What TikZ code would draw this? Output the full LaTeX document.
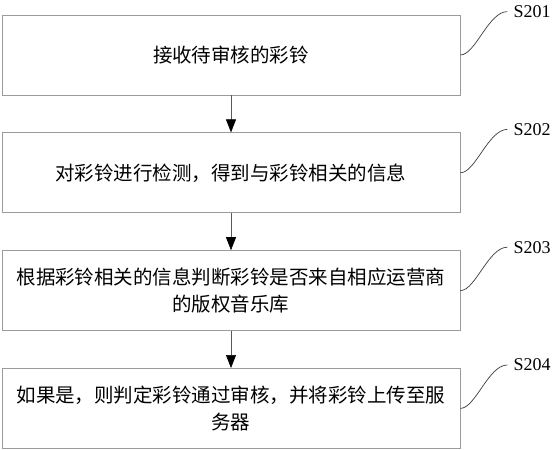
\documentclass[tikz,border=0pt]{standalone}
\usepackage{fontspec}
\setmainfont{Liberation Serif}
\newfontfamily\cjkFont{Noto Sans CJK SC}
\usetikzlibrary{positioning, arrows.meta}
\tikzstyle{flowchart} = [x = 1pt, y = -1pt]
\definecolor{boxColor}{RGB}{155,155,155}
\definecolor{curveColor}{RGB}{60,60,60}
\tikzstyle{stepBox} = [draw = boxColor, line width = .8pt, minimum width = 458pt, minimum height = 80pt, align = center, inner sep = 0pt, font = \cjkFont\fontsize{19.5}{27}\selectfont]
\tikzstyle{flowArrow} = [color = black!65, line width = .6pt, -{Triangle[length = 13pt, width = 10pt, color = black]}]
\tikzstyle{labelText} = [font = \fontsize{18}{18}\selectfont, inner xsep = 6pt, inner ysep = 0pt]
\tikzstyle{labelCurve} = [color = curveColor, line width = .7pt]
\newcommand{\stepLabel}[2]{
  \node [labelText, right = 47pt of #1.north east, yshift = 3pt] (#2) {#2};
  \draw [labelCurve] (#1.east) .. controls +(15,0) and +(-19,0) .. (#2.west);
}

\begin{document}
\begin{tikzpicture}[flowchart]
  \useasboundingbox (0,0) rectangle (558,450);

  \node [stepBox] (receive) at (231,55) {接收待审核的彩铃};
  \node [stepBox, below = 37pt of receive] (detect) {对彩铃进行检测，得到与彩铃相关的信息};
  \node [stepBox, below = 37pt of detect] (judge) {根据彩铃相关的信息判断彩铃是否来自相应运营商\\的版权音乐库};
  \node [stepBox, below = 37pt of judge] (upload) {如果是，则判定彩铃通过审核，并将彩铃上传至服\\务器};

  \draw [flowArrow] (receive) -- (detect);
  \draw [flowArrow] (detect) -- (judge);
  \draw [flowArrow] (judge) -- (upload);

  \stepLabel{receive}{S201}
  \stepLabel{detect}{S202}
  \stepLabel{judge}{S203}
  \stepLabel{upload}{S204}
\end{tikzpicture}
\end{document}
